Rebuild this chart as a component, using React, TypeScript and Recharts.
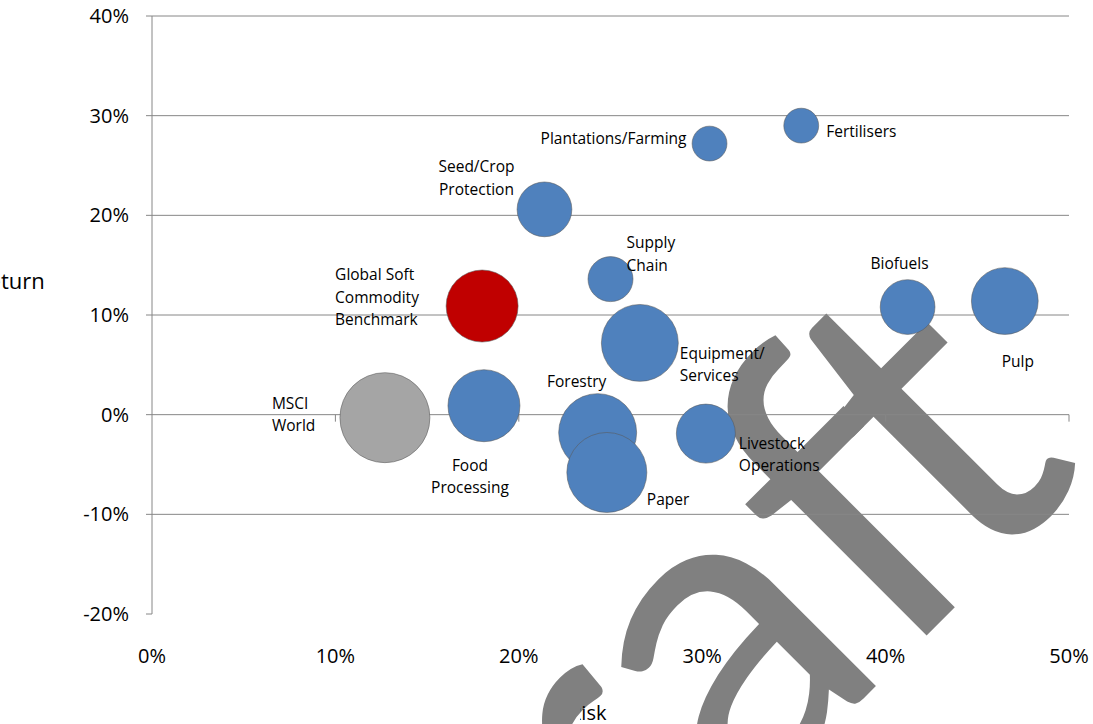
import React, { useLayoutEffect, useRef, useState } from 'react';
import { ScatterChart, Scatter, XAxis, YAxis, ZAxis, CartesianGrid, ReferenceLine } from 'recharts';

// ---------- data ----------
const sectorNames = [
  'Seed/Crop\nProtection',
  'Plantations/Farming',
  'Fertilisers',
  'Supply\nChain',
  'Equipment/\nServices',
  'Forestry',
  'Paper',
  'Livestock\nOperations',
  'Food\nProcessing',
  'Biofuels',
  'Pulp',
];
const sectorRisk = [0.214, 0.304, 0.354, 0.25, 0.266, 0.243, 0.248, 0.302, 0.181, 0.412, 0.465];
const sectorReturn = [0.206, 0.272, 0.29, 0.136, 0.072, -0.018, -0.058, -0.019, 0.009, 0.108, 0.114];
const sectorSize = [37, 15, 15, 25, 73, 75, 79, 43, 64, 37, 55];

const benchmarkNames = ['Global Soft\nCommodity\nBenchmark'];
const benchmarkRisk = [0.18];
const benchmarkReturn = [0.109];
const benchmarkSize = [64];

const marketNames = ['MSCI\nWorld'];
const marketRisk = [0.127];
const marketReturn = [-0.003];
const marketSize = [100];

const xTicks = [0, 0.1, 0.2, 0.3, 0.4, 0.5];
const yTicks = [-0.2, -0.1, 0, 0.1, 0.2, 0.3, 0.4];
const gridValues = [-0.1, 0, 0.1, 0.2, 0.3, 0.4];
const zeroLineTicks = [0.1, 0.2, 0.3, 0.4, 0.5];

const xTitle = 'Risk';
const yTitle = 'Return';
const watermarkHead = 'Draf';
const watermarkTail = 't';

const build = (names: string[], xs: number[], ys: number[], zs: number[]) =>
  names.map((name, i) => ({ name, x: xs[i], y: ys[i], z: zs[i] }));

const sectorData = build(sectorNames, sectorRisk, sectorReturn, sectorSize);
const benchmarkData = build(benchmarkNames, benchmarkRisk, benchmarkReturn, benchmarkSize);
const marketData = build(marketNames, marketRisk, marketReturn, marketSize);

// ---------- styles ----------
const BLUE = '#4F81BD';
const RED = '#C00000';
const GRAY = '#A5A5A5';
const GRID = '#868686';
const LABEL_FONT = "'Open Sans', sans-serif";

type Placement = { dx: number; dy: number; anchor: 'start' | 'middle' | 'end' };
const labelPlacement: Record<string, Placement> = {
  'Seed/Crop\nProtection': { dx: -68, dy: -43, anchor: 'middle' },
  'Plantations/Farming': { dx: -23, dy: -6, anchor: 'end' },
  Fertilisers: { dx: 25, dy: 5, anchor: 'start' },
  'Supply\nChain': { dx: 16, dy: -37, anchor: 'start' },
  'Equipment/\nServices': { dx: 40, dy: 10, anchor: 'start' },
  Forestry: { dx: -21, dy: -52, anchor: 'middle' },
  Paper: { dx: 40, dy: 27, anchor: 'start' },
  'Livestock\nOperations': { dx: 33, dy: 9, anchor: 'start' },
  'Food\nProcessing': { dx: -14, dy: 59, anchor: 'middle' },
  Biofuels: { dx: -8, dy: -44, anchor: 'middle' },
  Pulp: { dx: 13, dy: 60, anchor: 'middle' },
  'Global Soft\nCommodity\nBenchmark': { dx: -147, dy: -32, anchor: 'start' },
  'MSCI\nWorld': { dx: -113, dy: -15, anchor: 'start' },
};

const LINE_H = 22.5;

const makeBubble = (color: string) => (props: any) => {
  const { cx, cy, payload } = props;
  let size = props.size;
  if (size == null || isNaN(size)) size = Math.PI * Math.pow((props.width || 0) / 2, 2);
  const r = Math.sqrt(Math.max(size, 0) / Math.PI);
  const name: string = payload?.name ?? '';
  const p = labelPlacement[name] || { dx: 0, dy: 0, anchor: 'middle' };
  const lines = name.split('\n');
  return (
    <g>
      <circle cx={cx} cy={cy} r={r} fill={color} stroke="rgba(90,90,90,0.55)" strokeWidth={1} />
      <text
        x={cx + p.dx}
        y={cy + p.dy}
        textAnchor={p.anchor}
        fontFamily={LABEL_FONT}
        fontSize={15.5}
        fill="#000"
      >
        {lines.map((ln, i) => (
          <tspan key={i} x={cx + p.dx} y={cy + p.dy + i * LINE_H} dominantBaseline="central">
            {ln}
          </tspan>
        ))}
      </text>
    </g>
  );
};

const pct = (v: number) => `${Math.round(v * 100)}%`;

const WM_X = 392;
const WM_Y = 1170;
const WM_SIZE = 445;
const WM_TAIL_SHIFT = -38;

function Watermark() {
  const headRef = useRef<SVGTextElement>(null);
  const [tailX, setTailX] = useState<number>(WM_X + 1.96 * WM_SIZE + WM_TAIL_SHIFT);
  useLayoutEffect(() => {
    const el = headRef.current;
    if (el && typeof el.getComputedTextLength === 'function') {
      const len = el.getComputedTextLength();
      if (len > 0) setTailX(WM_X + len + WM_TAIL_SHIFT);
    }
  }, []);
  const common = {
    fontFamily: 'Lato, sans-serif',
    fontSize: WM_SIZE,
    fill: '#808080',
  };
  return (
    <g transform={`rotate(-45 ${WM_X} ${WM_Y})`}>
      <text ref={headRef} x={WM_X} y={WM_Y} {...common}>
        {watermarkHead}
      </text>
      <text x={tailX} y={WM_Y} {...common}>
        {watermarkTail}
      </text>
    </g>
  );
}

export default function App() {
  const W = 1093;
  const H = 724;
  return (
    <div
      style={{
        position: 'absolute',
        left: 0,
        top: 0,
        width: W,
        height: H,
        overflow: 'hidden',
        background: '#fff',
      }}
    >
      <svg width={W} height={H} style={{ position: 'absolute', left: 0, top: 0 }}>
        <Watermark />
      </svg>
      <div style={{ position: 'absolute', left: 0, top: 0 }}>
        <ScatterChart width={W} height={H} margin={{ top: 16, right: 24, bottom: 80, left: 92 }}>
          <CartesianGrid horizontal vertical={false} stroke={GRID} horizontalValues={gridValues} />
          <XAxis
            type="number"
            dataKey="x"
            domain={[0, 0.5]}
            ticks={xTicks}
            tickFormatter={pct}
            axisLine={false}
            tickLine={false}
            tickSize={0}
            tickMargin={35}
            height={30}
            tick={{ fill: '#000', fontSize: 20, fontFamily: LABEL_FONT }}
            allowDataOverflow
          />
          <YAxis
            type="number"
            dataKey="y"
            domain={[-0.2, 0.4]}
            ticks={yTicks}
            tickFormatter={pct}
            axisLine={{ stroke: GRID }}
            tickLine={{ stroke: GRID }}
            tickSize={6}
            tickMargin={17}
            width={60}
            tick={{ fill: '#000', fontSize: 20, fontFamily: LABEL_FONT }}
            allowDataOverflow
          />
          <ZAxis type="number" dataKey="z" domain={[0, 100]} range={[0, Math.PI * 45 * 45]} />
          {zeroLineTicks.map((v) => (
            <ReferenceLine
              key={v}
              segment={[
                { x: v, y: 0 },
                { x: v, y: -0.007 },
              ]}
              stroke={GRID}
            />
          ))}
          <Scatter data={marketData} shape={makeBubble(GRAY)} isAnimationActive={false} />
          <Scatter data={benchmarkData} shape={makeBubble(RED)} isAnimationActive={false} />
          <Scatter data={sectorData} shape={makeBubble(BLUE)} isAnimationActive={false} />
        </ScatterChart>
      </div>
      <svg width={W} height={H} style={{ position: 'absolute', left: 0, top: 0, pointerEvents: 'none' }}>
        <defs>
          <clipPath id="xTitleClip">
            <rect x={580} y={660} width={200} height={64} />
          </clipPath>
        </defs>
        <text x={-25} y={289} fontFamily={LABEL_FONT} fontSize={22} fill="#000">
          {yTitle}
        </text>
        <text x={569} y={720} fontFamily={LABEL_FONT} fontSize={20} fill="#000" clipPath="url(#xTitleClip)">
          {xTitle}
        </text>
      </svg>
    </div>
  );
}
